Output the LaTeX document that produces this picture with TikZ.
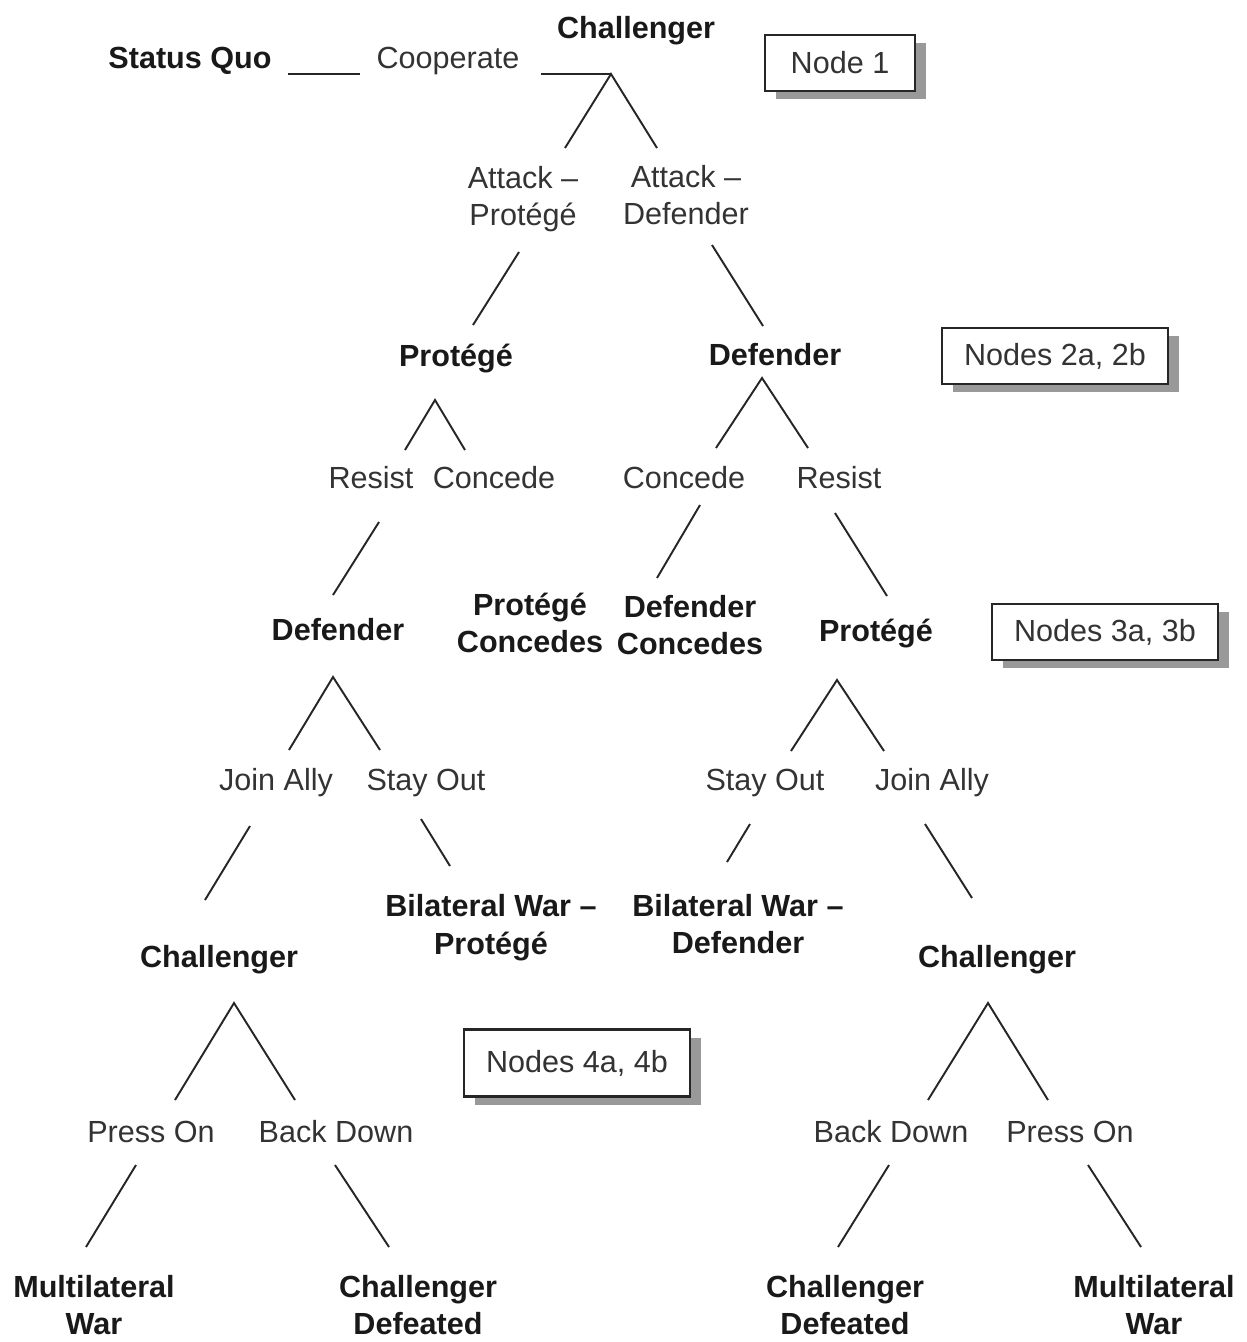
\documentclass[tikz,border=0pt]{standalone}
\usepackage{fontspec}
\setmainfont{Liberation Sans}
\usepackage{tikz}
\usetikzlibrary{shadows}

\begin{document}
\begin{tikzpicture}[x=0.02cm, y=-0.02cm,
  action/.style={font=\fontsize{17.4}{21.5}\selectfont, align=center,
    inner sep=1pt, text=black!80},
  %
  player/.style={action, font=\fontsize{17.4}{21.5}\selectfont\bfseries,
    text=black!90},
  %
  nodebox/.style={rectangle, draw=black!85, line width=1.2pt, fill=white,
    minimum width=4.52cm, minimum height=1.12cm, text=black!80,
    font=\fontsize{17.4}{21.5}\selectfont,
    drop shadow={shadow xshift=0.22cm, shadow yshift=-0.16cm,
      fill=black!40, opacity=1}},
  %
  branch/.style={draw=black!85, line width=1.1pt}
  ]

  \useasboundingbox (0,0) rectangle (1247,1342);

  \begin{scope}
    %%%%%%%%%%%%%%%%%%%%%%%%%%%%%%% challenger, first move
    \node [player] (sq) at (190,61) {Status Quo};
    \node [action] (coop) at (448,61) {Cooperate};
    \node [player] (chT) at (636,31) {Challenger};
    \node [nodebox, minimum width=3cm] (box1) at (840,63) {Node 1};
    \node [action] (attP) at (523,199) {Attack --\\Protégé};
    \node [action] (attD) at (686,195) {Attack --\\Defender};
    %%%%%%%%%%%%%%%%%%%%%%%%%%%%%%% protege / defender
    \node [player] (protL) at (456,359) {Protégé};
    \node [player] (defR) at (775,355) {Defender};
    \node [nodebox] (box2) at (1055,356) {Nodes 2a, 2b};
    \node [action] (resL) at (371,478) {Resist};
    \node [action] (conL) at (494,478) {Concede};
    \node [action] (conR) at (684,478) {Concede};
    \node [action] (resR) at (839,478) {Resist};
    %%%%%%%%%%%%%%%%%%%%%%%%%%%%%%% third party
    \node [player] (defL) at (338,630) {Defender};
    \node [player] (pConc) at (530,623) {Protégé\\Concedes};
    \node [player] (dConc) at (690,625) {Defender\\Concedes};
    \node [player] (protR) at (876,634) {Protégé};
    \node [nodebox] (box3) at (1105,632) {Nodes 3a, 3b};
    \node [action] (joinL) at (276,783) {Join Ally};
    \node [action] (stayL) at (426,783) {Stay Out};
    \node [action] (stayR) at (765,783) {Stay Out};
    \node [action] (joinR) at (932,783) {Join Ally};
    %%%%%%%%%%%%%%%%%%%%%%%%%%%%%%% challenger, last move
    \node [player] (chL) at (219,960) {Challenger};
    \node [player] (bwP) at (491,928) {Bilateral War --\\Protégé};
    \node [player] (bwD) at (738,924) {Bilateral War --\\Defender};
    \node [player] (chR) at (997,960) {Challenger};
    \node [nodebox, minimum height=1.34cm] (box4) at (577,1063) {Nodes 4a, 4b};
    \node [action] (pressL) at (151,1132) {Press On};
    \node [action] (backL) at (336,1132) {Back Down};
    \node [action] (backR) at (891,1132) {Back Down};
    \node [action] (pressR) at (1070,1132) {Press On};
    %%%%%%%%%%%%%%%%%%%%%%%%%%%%%%% outcomes
    \node [player] (mwL) at (94,1305) {Multilateral\\War};
    \node [player] (cdL) at (418,1305) {Challenger\\Defeated};
    \node [player] (cdR) at (845,1305) {Challenger\\Defeated};
    \node [player] (mwR) at (1154,1305) {Multilateral\\War};
  \end{scope}

  \begin{scope}
    % branch points and line ends
    \coordinate (sqEnd) at (288,74);
    \coordinate (coopIn) at (360,74);
    \coordinate (coopOut) at (541,74);
    \coordinate (chTa) at (611,74);
    \coordinate (attPtop) at (565,148);
    \coordinate (attDtop) at (657,148);
    \coordinate (attPout) at (519,252);
    \coordinate (protLin) at (473,325);
    \coordinate (attDout) at (712,245);
    \coordinate (defRin) at (763,326);
    %
    \coordinate (protLa) at (435,400);
    \coordinate (resLtop) at (405,450);
    \coordinate (conLtop) at (465,450);
    \coordinate (defRa) at (762,378);
    \coordinate (conRtop) at (716,448);
    \coordinate (resRtop) at (808,448);
    \coordinate (resLout) at (379,522);
    \coordinate (defLin) at (333,595);
    \coordinate (conRout) at (700,505);
    \coordinate (dConcIn) at (657,578);
    \coordinate (resRout) at (835,513);
    \coordinate (protRin) at (887,596);
    %
    \coordinate (defLa) at (333,677);
    \coordinate (joinLtop) at (289,750);
    \coordinate (stayLtop) at (380,750);
    \coordinate (protRa) at (837,680);
    \coordinate (stayRtop) at (791,751);
    \coordinate (joinRtop) at (884,751);
    \coordinate (joinLout) at (250,826);
    \coordinate (chLin) at (205,900);
    \coordinate (stayLout) at (421,819);
    \coordinate (bwPin) at (450,866);
    \coordinate (stayRout) at (750,824);
    \coordinate (bwDin) at (727,862);
    \coordinate (joinRout) at (925,824);
    \coordinate (chRin) at (972,898);
    %
    \coordinate (chLa) at (234,1003);
    \coordinate (pressLtop) at (175,1100);
    \coordinate (backLtop) at (295,1100);
    \coordinate (chRa) at (988,1003);
    \coordinate (backRtop) at (928,1100);
    \coordinate (pressRtop) at (1048,1100);
    \coordinate (pressLout) at (136,1165);
    \coordinate (mwLin) at (86,1247);
    \coordinate (backLout) at (335,1165);
    \coordinate (cdLin) at (389,1247);
    \coordinate (backRout) at (889,1165);
    \coordinate (cdRin) at (838,1247);
    \coordinate (pressRout) at (1088,1165);
    \coordinate (mwRin) at (1141,1247);

    \draw [branch] (sqEnd) -- (coopIn);
    \draw [branch] (coopOut) -- (chTa);
    \draw [branch] (attPtop) -- (chTa) -- (attDtop);
    \draw [branch] (attPout) -- (protLin);
    \draw [branch] (attDout) -- (defRin);
    \draw [branch] (resLtop) -- (protLa) -- (conLtop);
    \draw [branch] (conRtop) -- (defRa) -- (resRtop);
    \draw [branch] (resLout) -- (defLin);
    \draw [branch] (conRout) -- (dConcIn);
    \draw [branch] (resRout) -- (protRin);
    \draw [branch] (joinLtop) -- (defLa) -- (stayLtop);
    \draw [branch] (stayRtop) -- (protRa) -- (joinRtop);
    \draw [branch] (joinLout) -- (chLin);
    \draw [branch] (stayLout) -- (bwPin);
    \draw [branch] (stayRout) -- (bwDin);
    \draw [branch] (joinRout) -- (chRin);
    \draw [branch] (pressLtop) -- (chLa) -- (backLtop);
    \draw [branch] (backRtop) -- (chRa) -- (pressRtop);
    \draw [branch] (pressLout) -- (mwLin);
    \draw [branch] (backLout) -- (cdLin);
    \draw [branch] (backRout) -- (cdRin);
    \draw [branch] (pressRout) -- (mwRin);
  \end{scope}

\end{tikzpicture}
\end{document}
